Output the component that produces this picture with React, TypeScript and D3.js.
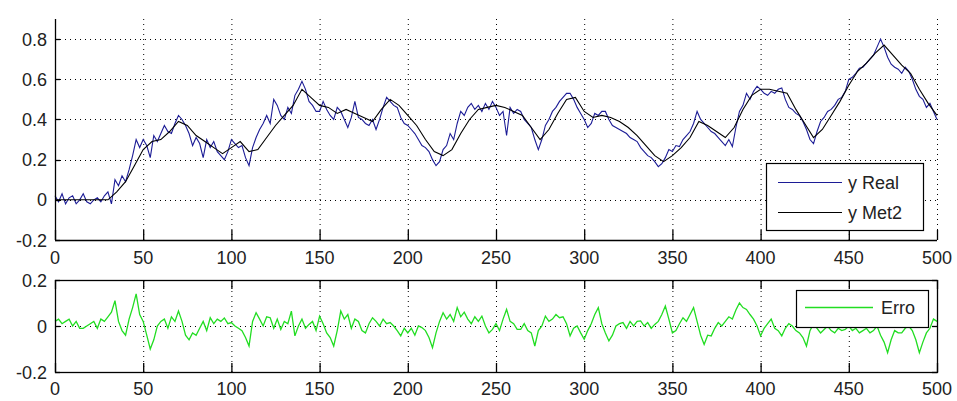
import React from "react";
import * as d3 from "d3";

const xTicks = [0, 50, 100, 150, 200, 250, 300, 350, 400, 450, 500];
const topYTicks = [-0.2, 0, 0.2, 0.4, 0.6, 0.8];
const botYTicks = [-0.2, 0, 0.2];
const topYLabels = ["-0.2", "0", "0.2", "0.4", "0.6", "0.8"];
const botYLabels = ["-0.2", "0", "0.2"];

// y Real, sampled every 2 steps (0..500)
const yReal = [
  0.02, -0.01, 0.03, -0.02, 0.01, 0.02, -0.02, 0.0, 0.03, -0.01,
  -0.02, 0.0, 0.01, -0.01, 0.02, 0.04, -0.02, 0.1, 0.07, 0.12,
  0.09, 0.15, 0.22, 0.3, 0.26, 0.3, 0.27, 0.21, 0.32, 0.29,
  0.33, 0.37, 0.34, 0.33, 0.38, 0.42, 0.4, 0.37, 0.33, 0.27,
  0.31, 0.28, 0.21, 0.3, 0.26, 0.29, 0.24, 0.22, 0.2, 0.24,
  0.3, 0.28, 0.26, 0.27, 0.21, 0.17, 0.26, 0.31, 0.35, 0.38,
  0.42, 0.38, 0.5, 0.47, 0.42, 0.4, 0.46, 0.43, 0.52, 0.55,
  0.59, 0.55, 0.49, 0.47, 0.44, 0.44, 0.49, 0.45, 0.42, 0.4,
  0.46, 0.44, 0.4, 0.36, 0.41, 0.49, 0.41, 0.4, 0.38, 0.37,
  0.4, 0.35, 0.4, 0.46, 0.51, 0.49, 0.47, 0.46, 0.41, 0.38,
  0.37, 0.35, 0.33, 0.3, 0.27, 0.26, 0.24, 0.2, 0.17, 0.19,
  0.25, 0.27, 0.33, 0.3, 0.38, 0.44, 0.42, 0.46, 0.48, 0.45,
  0.47, 0.44, 0.48, 0.45, 0.49, 0.46, 0.42, 0.44, 0.32, 0.46,
  0.43, 0.45, 0.44, 0.4, 0.38, 0.36, 0.3, 0.25, 0.3, 0.37,
  0.4, 0.44, 0.46, 0.49, 0.51, 0.53, 0.53, 0.5, 0.46, 0.43,
  0.4, 0.36, 0.38, 0.43, 0.42, 0.44, 0.44, 0.4, 0.37, 0.36,
  0.35, 0.34, 0.33, 0.31, 0.3, 0.29, 0.26, 0.24, 0.22, 0.21,
  0.19, 0.165, 0.18, 0.21, 0.25, 0.24, 0.27, 0.265, 0.3, 0.32,
  0.34, 0.38, 0.44, 0.4, 0.38, 0.36, 0.34, 0.33, 0.31, 0.29,
  0.27, 0.3, 0.265, 0.36, 0.44, 0.47, 0.53, 0.5, 0.54, 0.565,
  0.55, 0.53, 0.52, 0.54, 0.53, 0.55, 0.557, 0.5, 0.46, 0.45,
  0.43, 0.42, 0.39, 0.35, 0.3, 0.28, 0.34, 0.39, 0.41, 0.44,
  0.45, 0.47, 0.5, 0.51, 0.54, 0.6, 0.61, 0.63, 0.655, 0.66,
  0.68, 0.7, 0.72, 0.76, 0.8, 0.76, 0.71, 0.675, 0.66, 0.65,
  0.63, 0.66, 0.64, 0.6, 0.55, 0.515, 0.5, 0.46, 0.48, 0.44,
  0.4,
];

// y Met2, sampled every 5 steps (0..500)
const yMet2 = [
  0, 0, 0, 0, 0, 0, 0, 0.04, 0.09, 0.17,
  0.25, 0.29, 0.3, 0.34, 0.39, 0.37, 0.32, 0.29, 0.26, 0.23,
  0.26, 0.29, 0.24, 0.25, 0.31, 0.37, 0.42, 0.47, 0.55, 0.51,
  0.47, 0.46, 0.43, 0.45, 0.43, 0.41, 0.39, 0.45, 0.5, 0.47,
  0.42, 0.37, 0.3, 0.24, 0.22, 0.25, 0.33, 0.4, 0.45, 0.46,
  0.47, 0.46, 0.44, 0.42, 0.36, 0.3, 0.35, 0.43, 0.5, 0.51,
  0.44, 0.41, 0.42, 0.41, 0.39, 0.36, 0.32, 0.27, 0.22, 0.19,
  0.22, 0.26, 0.31, 0.39, 0.37, 0.34, 0.31, 0.36, 0.45, 0.52,
  0.55, 0.55, 0.54, 0.53, 0.45, 0.38, 0.31, 0.35, 0.42, 0.49,
  0.57, 0.64, 0.68, 0.73, 0.77, 0.72, 0.67, 0.63, 0.55, 0.48,
  0.42,
];

// Erro, sampled every 2 steps (0..500)
const erro = [
  0.02, 0.03, 0.01, 0.02, 0.03, 0.0, 0.02, -0.01, -0.01, 0.0,
  0.01, 0.02, -0.01, 0.03, 0.02, 0.04, 0.06, 0.11, 0.02, -0.02,
  -0.04, 0.03, 0.08, 0.14, 0.05, 0.02, -0.04, -0.1, -0.06, 0.0,
  0.02, 0.03, -0.01, 0.04, 0.02, 0.065, 0.02, -0.04, -0.06, -0.03,
  -0.04, -0.01, 0.02, -0.02, 0.036, 0.01, 0.03, 0.02, 0.035, 0.01,
  0.015, 0.0, -0.01, -0.02, -0.05, -0.087, 0.02, 0.058, 0.03, 0.0,
  0.04, 0.036, -0.01, 0.03, -0.015, 0.02, 0.01, 0.065, -0.043, 0.0,
  0.03, -0.01, 0.007, 0.02, -0.02, 0.043, 0.01, -0.03, -0.05, -0.087,
  -0.02, 0.065, 0.03, 0.05, -0.01, 0.03, 0.02, -0.02, -0.03, 0.01,
  0.036, 0.02, 0.0, 0.03, 0.01, 0.015, 0.0, -0.02, -0.043, -0.01,
  -0.03, -0.01, -0.04, 0.0, -0.007, -0.02, -0.05, -0.094, -0.03, 0.02,
  0.058, 0.03, 0.05, 0.02, 0.08, 0.04, 0.06, 0.03, 0.01, 0.04,
  0.02, 0.043, 0.0, -0.03, -0.015, 0.01, -0.02, 0.03, 0.072, 0.02,
  0.01, -0.015, -0.015, 0.01, -0.02, -0.03, -0.087, -0.02, 0.0, 0.043,
  0.02, 0.03, 0.05, 0.036, 0.04, 0.01, -0.043, -0.01, 0.0, -0.03,
  -0.058, -0.02, 0.01, 0.05, 0.08, 0.01, -0.03, -0.065, -0.04, 0.0,
  0.01, 0.015, -0.01, 0.02, 0.0, 0.02, 0.022, 0.0, 0.015, -0.01,
  0.007, 0.02, 0.05, 0.087, 0.03, -0.03, -0.02, 0.01, 0.036, 0.02,
  0.05, 0.08, 0.02, -0.04, -0.08, -0.04, -0.043, -0.01, 0.015, 0.0,
  0.02, 0.04, 0.03, 0.07, 0.1, 0.08, 0.072, 0.05, 0.03, 0.0,
  -0.043, -0.01, 0.01, 0.03, -0.01, -0.02, -0.043, -0.01, 0.01, 0.0,
  -0.02, -0.03, -0.05, -0.087, -0.02, 0.01, -0.01, -0.03, -0.015, 0.0,
  -0.02, -0.03, -0.01, -0.02, -0.015, 0.0, -0.02, -0.01, -0.03, -0.02,
  -0.01, -0.03, -0.02, 0.0, -0.04, -0.07, -0.116, -0.06, -0.02, -0.03,
  -0.03, -0.01, 0.0, -0.02, -0.06, -0.116, -0.07, -0.03, -0.01, 0.03,
  0.02,
];

const FONT = "'Liberation Sans', Arial, sans-serif";
const TXT = "#222";

export default function App() {
  const W = 957, H = 401;
  const x = d3.scaleLinear().domain([0, 500]).range([55, 937]);
  const yTop = d3.scaleLinear().domain([-0.2, 0.9]).range([240, 19]);
  const yBot = d3.scaleLinear().domain([-0.2, 0.2]).range([372, 280]);

  const realPts: [number, number][] = yReal.map((v, i) => [i * 2, v]);
  const metPts: [number, number][] = yMet2.map((v, i) => [i * 5, v]);
  const erroPts: [number, number][] = erro.map((v, i) => [i * 2, v]);

  const lineTop = d3.line<[number, number]>().x((d) => x(d[0])).y((d) => yTop(d[1]));
  const lineBot = d3.line<[number, number]>().x((d) => x(d[0])).y((d) => yBot(d[1]));

  const grid = { stroke: "#000", strokeWidth: 1, strokeDasharray: "1,4" };

  const topY0 = yTop(-0.2), topY1 = yTop(0.9);
  const botY0 = yBot(-0.2), botY1 = yBot(0.2);

  return (
    <svg width={W} height={H} style={{ position: "fixed", left: 0, top: 0, background: "#fff" }}>
      <rect x={0} y={0} width={W} height={H} fill="#fff" />
      {/* ===== Top plot ===== */}
      <g>
        {xTicks.map((t) => (
          <line key={"tgx" + t} x1={x(t) + 0.5} x2={x(t) + 0.5} y1={topY0} y2={topY1} {...grid} />
        ))}
        {topYTicks.map((t) => (
          <line key={"tgy" + t} x1={x(0)} x2={x(500)} y1={Math.round(yTop(t)) + 0.5} y2={Math.round(yTop(t)) + 0.5} {...grid} />
        ))}
        <path d={lineTop(realPts) || ""} fill="none" stroke="#1c1c96" strokeWidth={1.1} />
        <path d={lineTop(metPts) || ""} fill="none" stroke="#000" strokeWidth={1.1} />
        {/* axes */}
        <line x1={x(0) + 0.5} x2={x(0) + 0.5} y1={topY1} y2={topY0} stroke="#000" strokeWidth={1.3} />
        <line x1={x(0)} x2={x(500)} y1={topY0 + 0.5} y2={topY0 + 0.5} stroke="#000" strokeWidth={1.3} />
        {xTicks.map((t) => (
          <line key={"ttx" + t} x1={x(t) + 0.5} x2={x(t) + 0.5} y1={topY0} y2={topY0 - 10} stroke="#000" strokeWidth={1.3} />
        ))}
        {topYTicks.map((t) => (
          <line key={"tty" + t} x1={x(0)} x2={x(0) + 5} y1={Math.round(yTop(t)) + 0.5} y2={Math.round(yTop(t)) + 0.5} stroke="#000" strokeWidth={1.3} />
        ))}
        {xTicks.map((t) => (
          <text key={"tlx" + t} x={x(t)} y={264} textAnchor="middle" fontFamily={FONT} fontSize={18} fill={TXT}>{t}</text>
        ))}
        {topYTicks.map((t, i) => (
          <text key={"tly" + t} x={47} y={yTop(t) + 6.5} textAnchor="end" fontFamily={FONT} fontSize={18} fill={TXT}>{topYLabels[i]}</text>
        ))}
        {/* legend */}
        <rect x={766.5} y={163.5} width={157} height={67} fill="#fff" stroke="#000" strokeWidth={1.2} />
        <line x1={778} x2={842} y1={182.5} y2={182.5} stroke="#1c1c96" strokeWidth={1.2} />
        <text x={848} y={189} fontFamily={FONT} fontSize={18} fill={TXT}>y Real</text>
        <line x1={778} x2={842} y1={212.5} y2={212.5} stroke="#000" strokeWidth={1.2} />
        <text x={848} y={219} fontFamily={FONT} fontSize={18} fill={TXT}>y Met2</text>
      </g>

      {/* ===== Bottom plot ===== */}
      <g>
        {xTicks.map((t) => (
          <line key={"bgx" + t} x1={x(t) + 0.5} x2={x(t) + 0.5} y1={botY0} y2={botY1} {...grid} />
        ))}
        {botYTicks.map((t) => (
          <line key={"bgy" + t} x1={x(0)} x2={x(500)} y1={Math.round(yBot(t)) + 0.5} y2={Math.round(yBot(t)) + 0.5} {...grid} />
        ))}
        <path d={lineBot(erroPts) || ""} fill="none" stroke="#22dd22" strokeWidth={1.3} />
        <rect x={x(0) + 0.5} y={botY1 + 0.5} width={x(500) - x(0)} height={botY0 - botY1} fill="none" stroke="#000" strokeWidth={1.3} />
        {xTicks.map((t) => (
          <g key={"btx" + t}>
            <line x1={x(t) + 0.5} x2={x(t) + 0.5} y1={botY0} y2={botY0 - 9} stroke="#000" strokeWidth={1.3} />
            <line x1={x(t) + 0.5} x2={x(t) + 0.5} y1={botY1} y2={botY1 + 9} stroke="#000" strokeWidth={1.3} />
          </g>
        ))}
        {botYTicks.map((t) => (
          <g key={"bty" + t}>
            <line x1={x(0)} x2={x(0) + 5} y1={Math.round(yBot(t)) + 0.5} y2={Math.round(yBot(t)) + 0.5} stroke="#000" strokeWidth={1.3} />
            <line x1={x(500)} x2={x(500) - 5} y1={Math.round(yBot(t)) + 0.5} y2={Math.round(yBot(t)) + 0.5} stroke="#000" strokeWidth={1.3} />
          </g>
        ))}
        {xTicks.map((t) => (
          <text key={"blx" + t} x={x(t)} y={395} textAnchor="middle" fontFamily={FONT} fontSize={18} fill={TXT}>{t}</text>
        ))}
        {botYTicks.map((t, i) => (
          <text key={"bly" + t} x={47} y={yBot(t) + 6.5} textAnchor="end" fontFamily={FONT} fontSize={18} fill={TXT}>{botYLabels[i]}</text>
        ))}
        {/* legend */}
        <rect x={796.5} y={290.5} width={132} height={37} fill="#fff" stroke="#000" strokeWidth={1.2} />
        <line x1={805} x2={873} y1={307.5} y2={307.5} stroke="#22dd22" strokeWidth={1.3} />
        <text x={881} y={314} fontFamily={FONT} fontSize={18} fill={TXT}>Erro</text>
      </g>
    </svg>
  );
}
